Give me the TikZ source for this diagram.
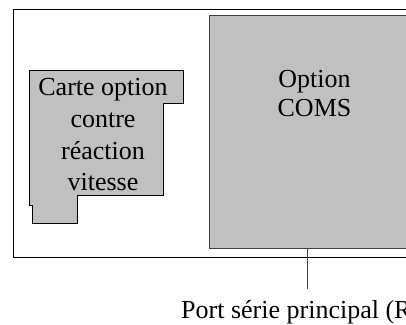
\documentclass[tikz,border=0pt]{standalone}
\usepackage{fontspec}
\setmainfont{Liberation Serif}
\usetikzlibrary{calc}
\definecolor{boxgray}{RGB}{192,192,192}
\definecolor{edgegray}{RGB}{64,64,64}

\begin{document}
\begin{tikzpicture}[x=1pt, y=-1pt,
        bigtext/.style={font=\fontsize{26}{31.7}\selectfont, inner sep=0pt, align=center}]
        \useasboundingbox (0,0) rectangle (406,324);
        \clip (0,0) rectangle (406,324);

        \coordinate (frame_nw) at (13.5,9.5);
        \coordinate (frame_se) at (440,257.5);
        \coordinate (coms_nw) at (209.5,15.5);
        \coordinate (coms_se) at (430,248.5);
        \coordinate (port_top) at (307,289.3);

        \path[draw, line width=0.9pt] (frame_nw) rectangle (frame_se);
        \path[draw=edgegray, fill=boxgray, line width=0.9pt] (coms_nw) rectangle (coms_se);
        \path[draw, fill=boxgray, line width=0.8pt] (29,70.7) -- (183.5,70.7) -- (183.5,103.3) -- (163.7,103.3)
            -- (163.7,195) -- (77.3,195) -- (77.3,223.3) -- (32.3,223.3) -- (32.3,205) -- (29,205) -- cycle;

        % base anchor sits on the last line
        \node[bigtext, anchor=base] (Carte) at (103,190.7) {Carte option\\contre\\réaction\\vitesse};
        \node[bigtext, anchor=base, font=\fontsize{26}{29.4}\selectfont] (Coms) at (314.5,116.7) {Option\\COMS};
        \node[bigtext, anchor=base west] (Port) at (181,318.5) {Port série principal (R};

        \path[draw=edgegray, line width=0.8pt] (coms_se -| port_top) -- (port_top);
\end{tikzpicture}
\end{document}
